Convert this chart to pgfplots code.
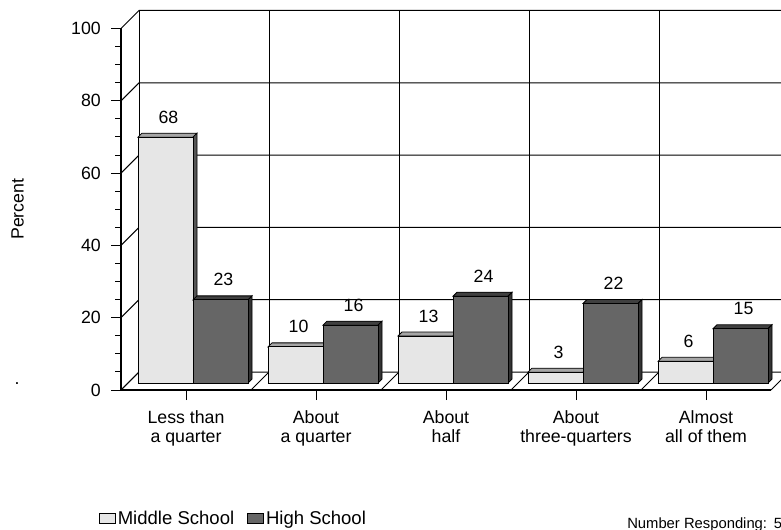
\documentclass[border=0pt]{standalone}
\usepackage{pgfplots}
\pgfplotsset{compat=1.18}
\usepackage{pgfplotstable}
\usepackage{fontspec}
\setmainfont{Liberation Sans}

\definecolor{msfront}{HTML}{E6E6E6}
\definecolor{mstop}{HTML}{A6A6A6}
\definecolor{msside}{HTML}{555555}
\definecolor{hsfront}{HTML}{666666}
\definecolor{hstop}{HTML}{404040}
\definecolor{hsside}{HTML}{333333}

\newcommand{\chartfont}{\fontsize{13.3}{14.3}\selectfont}

% survey results (percent)
\pgfplotstableread{
cat ms hs
0   68 23
1   10 16
2   13 24
3   3  22
4   6  15
}\surveydata

\pgfdeclareplotmark{void}{}

% One column with depth, drawn at its data point.
% #1 left edge of the front face (pt, from the category centre)
% #2 front, #3 top, #4 side colour, #5 value
\newcommand{\columnthreed}[5]{%
  \pgfmathsetmacro\colh{#5*2.71125}%
  \pgfmathtruncatemacro\colv{round(#5)}%
  \pgfmathsetmacro\colL{#1}%
  \pgfmathsetmacro\colR{#1+41.25}%
  \pgfmathsetmacro\colLb{\colL+3}%
  \pgfmathsetmacro\colRb{\colR+3}%
  \pgfmathsetmacro\colB{5.25-\colh}%
  \pgfmathsetmacro\colBb{\colB+3}%
  \pgfmathsetmacro\colC{\colL+20.625+2.25}%
  \draw[line width=0.6pt, fill=#3] (\colL pt,5.25pt) -- (\colR pt,5.25pt)
       -- (\colRb pt,8.25pt) -- (\colLb pt,8.25pt) -- cycle;
  \draw[line width=0.6pt, fill=#4] (\colR pt,\colB pt) -- (\colR pt,5.25pt)
       -- (\colRb pt,8.25pt) -- (\colRb pt,\colBb pt) -- cycle;
  \draw[line width=0.6pt, fill=#2] (\colL pt,\colB pt) rectangle (\colR pt,5.25pt);
  \node[anchor=base, inner sep=0pt, font=\chartfont] at (\colC pt,15.75pt) {\colv};
}

\pgfplotsset{
  column3d/.style n args={4}{
    scatter, only marks, mark=void,
    visualization depends on={rawy \as \colval},
    scatter/@pre marker code/.code={\columnthreed{#1}{#2}{#3}{#4}{\colval}},
    scatter/@post marker code/.code={},
    legend image code/.code={\draw[line width=0.6pt, fill=#2] (0pt,-3.75pt) rectangle (12pt,3.75pt);},
  },
}

\begin{document}
\begin{tikzpicture}[x=0.75pt, y=0.75pt]
\coordinate (frontcorner) at (121,139);
\begin{axis}[
  at={(frontcorner)}, anchor=south west,
  x=97.5pt, y=2.71125pt,
  xmin=-0.5, xmax=4.5, ymin=0, ymax=100,
  clip=false,
  axis x line*=bottom, axis y line*=left,
  axis line style={-, line width=1.1pt},
  xtick={0,1,2,3,4},
  xticklabels={{Less than\\a quarter},{About\\a quarter},{About\\half},{About\\three-quarters},{Almost\\all of them}},
  ytick={0,20,...,100},
  minor y tick num=3,
  tick align=outside,
  major tick length=7.5pt,
  minor tick length=4.5pt,
  tick style={black, line width=0.75pt},
  tick label style={font=\chartfont},
  /pgf/number format/assume math mode=true,
  xticklabel style={align=center, anchor=north, inner sep=0pt, yshift=-8pt},
  yticklabel style={anchor=east, inner sep=0pt, xshift=-7.5pt},
  ylabel={Percent},
  every axis y label/.style={at={(axis description cs:-0.1592,0.5)}, rotate=90, anchor=center, inner sep=0pt, font=\chartfont},
  legend style={at={(-0.03385,-0.35408)}, anchor=west, draw=none, fill=none,
    inner sep=0pt, outer sep=0pt, font=\fontsize{13.9}{15}\selectfont,
    nodes={inner sep=0pt, text depth=0pt},
    /tikz/every odd column/.append style={column sep=1.5pt},
    /tikz/every even column/.append style={column sep=9.75pt}},
  legend columns=2,
  legend cell align=left,
]
% walls and floor
\pgfplotsinvokeforeach{0,20,...,100}{
  \draw[line width=0.75pt] (axis cs:-0.5,#1) -- ++(13.5pt,13.5pt)
    -- ([shift={(13.5pt,13.5pt)}]axis cs:4.5,#1);
}
\pgfplotsinvokeforeach{-0.5,0.5,1.5,2.5,3.5,4.5}{
  \draw[line width=0.75pt] ([shift={(13.5pt,13.5pt)}]axis cs:#1,0)
    -- ([shift={(13.5pt,13.5pt)}]axis cs:#1,100);
  \draw[line width=0.75pt] (axis cs:#1,0) -- ++(13.5pt,13.5pt);
}

\addplot[column3d={-36}{msfront}{mstop}{msside}] table[x=cat, y=ms] {\surveydata};
\addlegendentry{Middle School}
\addplot[column3d={5.25}{hsfront}{hstop}{hsside}] table[x=cat, y=hs] {\surveydata};
\addlegendentry{High School}
\end{axis}

\node[inner sep=0pt, font=\chartfont] at (17,145) {.};
\node[anchor=base west, inner sep=0pt, font=\fontsize{11.1}{13}\selectfont] at (627,1) {Number Responding:\hspace{5pt}5};

\pgfresetboundingbox
\useasboundingbox (0,0) rectangle (781,529);
\end{tikzpicture}
\end{document}
